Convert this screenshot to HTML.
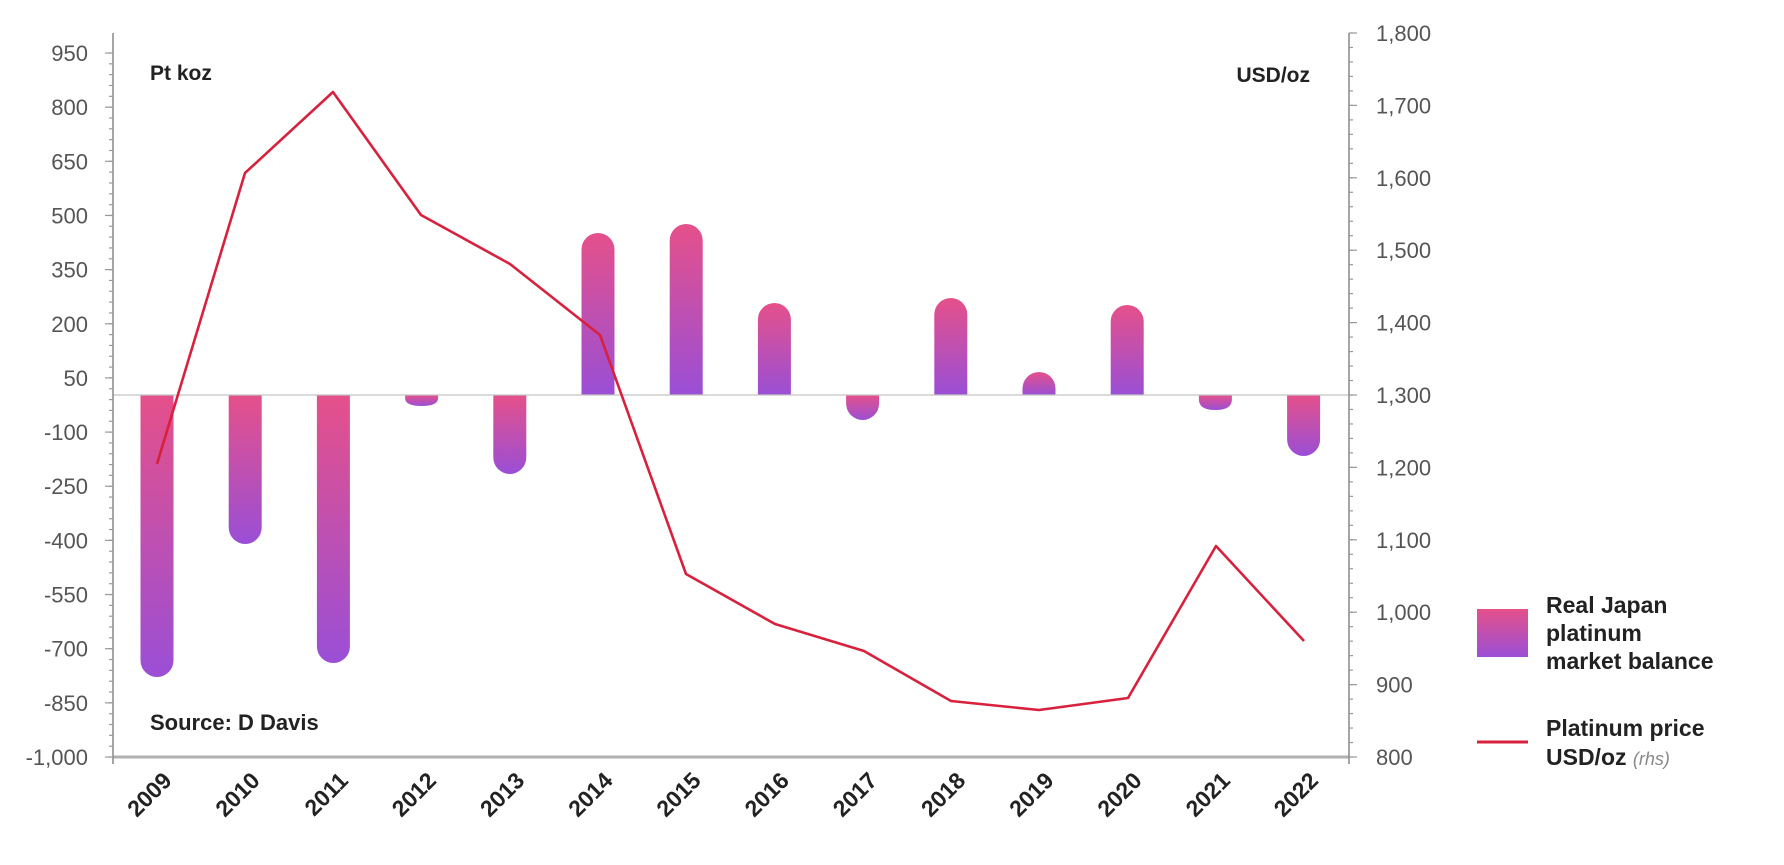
<!DOCTYPE html>
<html><head><meta charset="utf-8"><style>
html,body{margin:0;padding:0;background:#fff;}
svg text{font-family:"Liberation Sans",sans-serif;}
</style></head><body>
<svg width="1784" height="860" viewBox="0 0 1784 860" xmlns="http://www.w3.org/2000/svg">
<defs>
<linearGradient id="g" x1="0" y1="0" x2="0" y2="1">
<stop offset="0" stop-color="#e5508a"/><stop offset="1" stop-color="#9a4fd6"/>
</linearGradient>
</defs>
<g id="bars"></g>
<line x1="113" y1="395" x2="1349" y2="395" stroke="#c4c4c4" stroke-width="1.2"/>
<line x1="113" y1="757" x2="1349" y2="757" stroke="#b0b0b0" stroke-width="3"/>
<line x1="113" y1="33" x2="113" y2="764" stroke="#888" stroke-width="1.5"/>
<line x1="1349" y1="33" x2="1349" y2="764" stroke="#888" stroke-width="1.5"/>
<g id="ticks" stroke="#999" stroke-width="1.2"></g>
<g id="lab" font-size="22" fill="#555"></g>
<polyline fill="none" stroke="#d8213c" stroke-width="2.6" stroke-linejoin="round" points="157,464 245,173 333,92 421,215 510,264 600,335 686,574 775,624 864,651 951,701 1039,710 1128,698 1216,546 1304,641"/>
<text x="150" y="80" font-size="21" font-weight="bold" fill="#222">Pt koz</text>
<text x="1310" y="82" font-size="21" font-weight="bold" fill="#222" text-anchor="end">USD/oz</text>
<text x="150" y="730" font-size="22" font-weight="bold" fill="#222">Source: D Davis</text>
<rect x="1477" y="609" width="51" height="48" fill="url(#g)"/>
<text font-size="23" font-weight="bold" fill="#222"><tspan x="1546" y="613">Real Japan</tspan><tspan x="1546" y="641">platinum</tspan><tspan x="1546" y="669">market balance</tspan></text>
<line x1="1477" y1="742" x2="1528" y2="742" stroke="#d8213c" stroke-width="3"/>
<text font-size="23" font-weight="bold" fill="#222"><tspan x="1546" y="736">Platinum price</tspan><tspan x="1546" y="765">USD/oz <tspan font-style="italic" font-weight="normal" fill="#888" font-size="18">(rhs)</tspan></tspan></text>
<g id="xl" font-size="23" font-weight="bold" fill="#222"></g>
</svg>
<script>
var ns="http://www.w3.org/2000/svg";
function el(t,a,p,txt){var e=document.createElementNS(ns,t);for(var k in a)e.setAttribute(k,a[k]);if(txt!=null)e.textContent=txt;document.getElementById(p).appendChild(e);return e;}
var ends=[677,544,663,406,474,233,224,303,420,298,372,305,410,456];
var w=33,r=16.5,base=395;
ends.forEach(function(e,i){var cx=157+i*88.2,x0=cx-w/2,x1=cx+w/2,d;
 if(e>base){var ey=Math.max(e-r,base);d="M"+x0+","+base+"L"+x1+","+base+"L"+x1+","+ey+"A"+r+","+r+" 0 0 1 "+x0+","+ey+"Z";}
 else{var ey2=Math.min(e+r,base);d="M"+x0+","+base+"L"+x1+","+base+"L"+x1+","+ey2+"A"+r+","+r+" 0 0 0 "+x0+","+ey2+"Z";}
 if(Math.abs(e-base)<r){var h=Math.abs(e-base);d=(e>base)?"M"+x0+","+base+"L"+x1+","+base+"L"+x1+","+(base+h*0.3)+"Q"+x1+","+e+" "+cx+","+e+"Q"+x0+","+e+" "+x0+","+(base+h*0.3)+"Z":"M"+x0+","+base+"L"+x1+","+base+"L"+x1+","+(base-h*0.3)+"Q"+x1+","+e+" "+cx+","+e+"Q"+x0+","+e+" "+x0+","+(base-h*0.3)+"Z";}
 el("path",{d:d,fill:"url(#g)"},"bars");
 el("text",{x:0,y:0,"text-anchor":"end",transform:"translate("+(cx+16)+",782) rotate(-45)"},"xl",String(2009+i));
});
var s=704/1950;
for(var v=-1000;v<=950;v+=30){var y=757-(v+1000)*s;el("line",{x1:109,y1:y,x2:113,y2:y},"ticks");}
for(var v=-1000;v<=950;v+=150){var y=757-(v+1000)*s;el("line",{x1:105,y1:y,x2:113,y2:y},"ticks");
 el("text",{x:88,y:y+8,"text-anchor":"end"},"lab",v<=-1000?"-1,000":String(v));}
var s2=724/1000;
for(var v=800;v<=1800;v+=20){var y=757-(v-800)*s2;el("line",{x1:1349,y1:y,x2:1353,y2:y},"ticks");}
for(var v=800;v<=1800;v+=100){var y=757-(v-800)*s2;el("line",{x1:1349,y1:y,x2:1357,y2:y},"ticks");
 var str=v>=1000?(Math.floor(v/1000)+","+String(v%1000).padStart(3,"0")):String(v);
 el("text",{x:1376,y:y+8},"lab",str);}
</script>
</body></html>
